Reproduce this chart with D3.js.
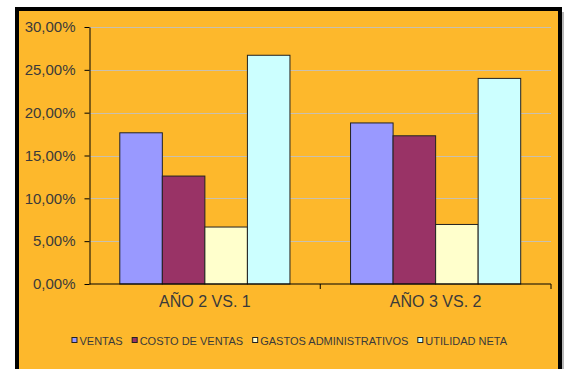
<!DOCTYPE html>
<html>
<head>
<meta charset="utf-8">
<script src="https://cdn.jsdelivr.net/npm/d3@7"></script>
<style>
  body { margin: 0; background: #ffffff; }
  svg { display: block; font-family: "Liberation Sans", Arial, sans-serif; }
</style>
</head>
<body>
<svg id="chart" width="567" height="369"></svg>
<script>
// data
var categories = ["AÑO 2 VS. 1", "AÑO 3 VS. 2"];
var seriesNames = ["VENTAS", "COSTO DE VENTAS", "GASTOS ADMINISTRATIVOS", "UTILIDAD NETA"];
var seriesColors = ["#9999FF", "#993366", "#FFFFCC", "#CCFFFF"];
var ventas = [17.65, 18.8];
var costoVentas = [12.6, 17.3];
var gastosAdmin = [6.65, 6.95];
var utilidadNeta = [26.7, 24.0];
var yTicks = [0, 5, 10, 15, 20, 25, 30];

var seriesValues = [ventas, costoVentas, gastosAdmin, utilidadNeta];
var width = 567, height = 369;
var plot = { left: 89.5, right: 551, top: 27, bottom: 284 };
var textColor = "#3a3a3a";

var svg = d3.select("#chart");

// frame with shadow
svg.append("rect")
    .attr("x", 20).attr("y", 12)
    .attr("width", 544).attr("height", 380)
    .attr("fill", "#b8b8b8");
svg.append("rect")
    .attr("x", 17).attr("y", 9)
    .attr("width", 543).attr("height", 380)
    .attr("fill", "#FDB82C")
    .attr("stroke", "#000")
    .attr("stroke-width", 4);

var y = d3.scaleLinear().domain([0, 30]).range([plot.bottom, plot.top]);
var x0 = d3.scaleBand().domain(categories).range([plot.left, plot.right]).paddingInner(0).paddingOuter(0);
var x1 = d3.scaleBand().domain(seriesNames)
    .range([30.3, x0.bandwidth() - 30.3]).padding(0);

// gridlines
svg.append("g").selectAll("line")
    .data(yTicks.filter(function(t) { return t > 0; }))
    .enter().append("line")
    .attr("x1", plot.left).attr("x2", plot.right)
    .attr("y1", function(d) { return Math.round(y(d)) + 0.5; })
    .attr("y2", function(d) { return Math.round(y(d)) + 0.5; })
    .attr("stroke", "#c8c0b0")
    .attr("stroke-width", 1);

// bars
var groups = svg.append("g").selectAll("g")
    .data(categories)
    .enter().append("g")
    .attr("transform", function(d) { return "translate(" + x0(d) + ",0)"; });

groups.selectAll("rect")
    .data(function(c, ci) {
        return seriesNames.map(function(s, si) {
            return { name: s, value: seriesValues[si][ci], color: seriesColors[si] };
        });
    })
    .enter().append("rect")
    .attr("x", function(d) { return x1(d.name); })
    .attr("y", function(d) { return y(d.value); })
    .attr("width", x1.bandwidth())
    .attr("height", function(d) { return y(0) - y(d.value); })
    .attr("fill", function(d) { return d.color; })
    .attr("stroke", "#222")
    .attr("stroke-width", 1);

// y axis
var fmt = function(d) { return d.toFixed(2).replace(".", ",") + "%"; };
var yAxis = svg.append("g")
    .attr("transform", "translate(" + plot.left + ",0)")
    .call(d3.axisLeft(y).tickValues(yTicks).tickSize(5).tickSizeOuter(0).tickPadding(9).tickFormat(fmt));
yAxis.select(".domain").attr("stroke", "#000");
yAxis.selectAll(".tick line").attr("stroke", "#000");
yAxis.selectAll("text")
    .attr("fill", textColor)
    .style("font-size", "15px")
    .style("font-family", "'Liberation Sans', Arial, sans-serif");

// x axis
var xAxis = svg.append("g")
    .attr("transform", "translate(0," + plot.bottom + ")");
xAxis.append("line")
    .attr("x1", plot.left).attr("x2", plot.right)
    .attr("y1", 0).attr("y2", 0)
    .attr("stroke", "#000");
xAxis.selectAll(".xtick")
    .data(categories)
    .enter().append("line")
    .attr("class", "xtick")
    .attr("x1", function(d) { return x0(d) + x0.bandwidth(); })
    .attr("x2", function(d) { return x0(d) + x0.bandwidth(); })
    .attr("y1", 0).attr("y2", 5)
    .attr("stroke", "#000");
xAxis.selectAll(".xlabel")
    .data(categories)
    .enter().append("text")
    .attr("class", "xlabel")
    .attr("x", function(d) { return x0(d) + x0.bandwidth() / 2; })
    .attr("y", 23)
    .attr("text-anchor", "middle")
    .attr("fill", textColor)
    .style("font-size", "16px")
    .text(function(d) { return d; });

// legend
var legend = svg.append("g").attr("transform", "translate(0,345)");
var items = legend.selectAll("g")
    .data(seriesNames)
    .enter().append("g");
items.append("rect")
    .attr("x", 0).attr("y", -7.5)
    .attr("width", 5).attr("height", 5)
    .attr("fill", function(d, i) { return seriesColors[i]; })
    .attr("stroke", "#222")
    .attr("stroke-width", 1);
items.append("text")
    .attr("x", 7.5).attr("y", 0)
    .attr("fill", textColor)
    .style("font-size", "11px")
    .text(function(d) { return d; });

var xpos = 0, offsets = [];
items.each(function() {
    offsets.push(xpos);
    var w = d3.select(this).select("text").node().getComputedTextLength();
    xpos += 7.5 + w + 9.5;
});
var total = xpos - 9.5;
var start = 289.5 - total / 2;
items.attr("transform", function(d, i) { return "translate(" + (start + offsets[i]) + ",0)"; });
</script>
</body>
</html>
